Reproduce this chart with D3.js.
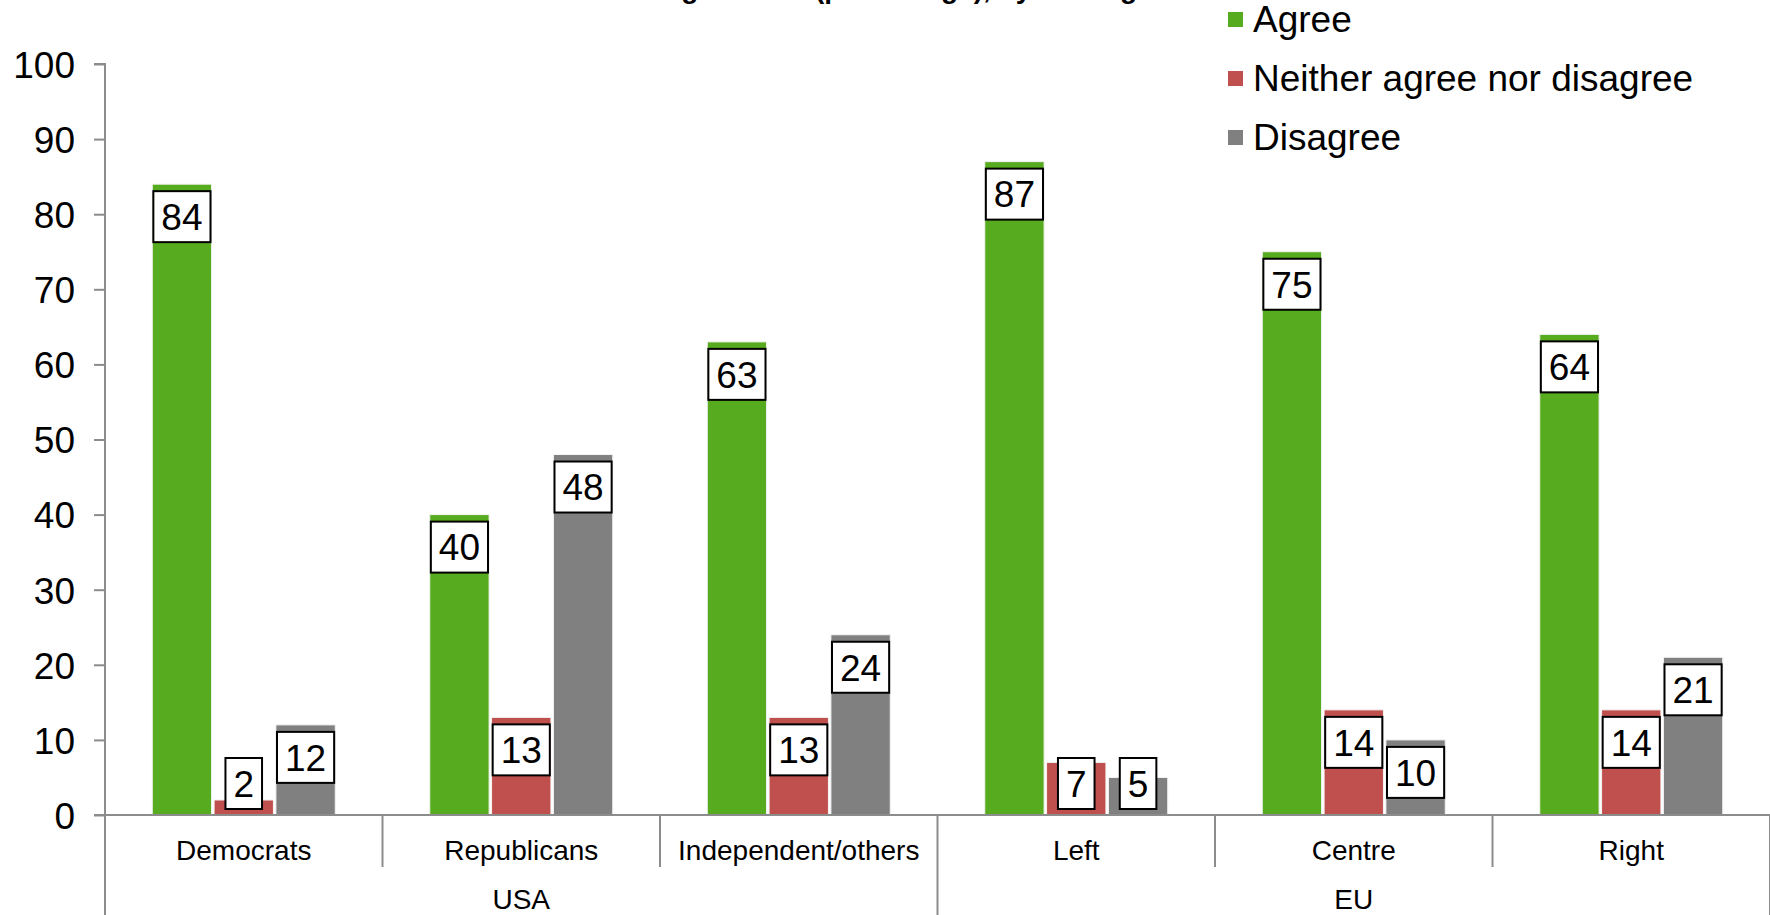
<!DOCTYPE html>
<html>
<head>
<meta charset="utf-8">
<script src="https://cdn.jsdelivr.net/npm/d3@7"></script>
<style>
  html, body { margin: 0; padding: 0; background: #fff; overflow: hidden; }
  svg { display: block; font-family: "Liberation Sans", Arial, sans-serif; }
</style>
</head>
<body>
<svg id="chart" width="1770" height="915"></svg>
<script>
// Survey answers by political leaning
const categories = ["Democrats", "Republicans", "Independent/others", "Left", "Centre", "Right"];
const groups = [
  { name: "USA", members: ["Democrats", "Republicans", "Independent/others"] },
  { name: "EU", members: ["Left", "Centre", "Right"] }
];
const seriesNames = ["Agree", "Neither agree nor disagree", "Disagree"];
const agree = [84, 40, 63, 87, 75, 64];
const neither = [2, 13, 13, 7, 14, 14];
const disagree = [12, 48, 24, 5, 10, 21];
const yTicks = [0, 10, 20, 30, 40, 50, 60, 70, 80, 90, 100];
const titleText = "Level of agreement (percentage), by leaning";

const colors = ["#57ab1e", "#c0504d", "#808080"];
const seriesValues = [agree, neither, disagree];

const svg = d3.select("#chart");
const plot = { left: 105, right: 1770, top: 64, bottom: 815 };

const y = d3.scaleLinear().domain([0, 100]).range([plot.bottom, plot.top]);
const x0 = d3.scaleBand().domain(categories).range([plot.left, plot.right]).padding(0);
const clusterW = 183;
const x1 = d3.scaleBand().domain(seriesNames)
  .range([(x0.bandwidth() - clusterW) / 2, (x0.bandwidth() + clusterW) / 2])
  .paddingInner(0.04);

const axisColor = "#8c8c8c";

// Title (sits at the very top edge)
svg.append("text")
  .attr("x", 552).attr("y", -2)
  .attr("font-size", 28).attr("font-weight", "bold")
  .attr("fill", "#000")
  .text(titleText);

// Y axis
const yAxis = d3.axisLeft(y).tickValues(yTicks).tickSize(11).tickPadding(19).tickFormat(d3.format("d"));
const gy = svg.append("g").attr("transform", `translate(${plot.left},0)`).call(yAxis);
gy.select(".domain").attr("stroke", axisColor).attr("stroke-width", 2)
  .attr("d", `M-11,${plot.top}H0V${plot.bottom}`);
gy.selectAll(".tick line").attr("stroke", axisColor).attr("stroke-width", 2);
gy.selectAll(".tick text").attr("font-size", 37).attr("fill", "#000")
  .attr("font-family", '"Liberation Sans", Arial, sans-serif').attr("dy", "0.36em");

// Bars
const rows = categories.map((c, i) => ({
  cat: c,
  vals: seriesNames.map((s, j) => ({ series: s, value: seriesValues[j][i], color: colors[j] }))
}));

const catG = svg.append("g").selectAll("g").data(rows).join("g")
  .attr("transform", d => `translate(${x0(d.cat)},0)`);

catG.selectAll("rect.bar").data(d => d.vals).join("rect")
  .attr("class", "bar")
  .attr("x", d => x1(d.series))
  .attr("y", d => y(d.value))
  .attr("width", x1.bandwidth())
  .attr("height", d => y(0) - y(d.value))
  .attr("fill", d => d.color)
  .attr("stroke", "#f4f4f4").attr("stroke-width", 1);

// X axis baseline
svg.append("line")
  .attr("x1", plot.left - 11).attr("x2", plot.right)
  .attr("y1", plot.bottom).attr("y2", plot.bottom)
  .attr("stroke", axisColor).attr("stroke-width", 2);

// Value labels in boxed callouts
const labelFont = 37;
const boxH = 51;
catG.each(function (d) {
  const g = d3.select(this);
  d.vals.forEach(v => {
    const txt = String(v.value);
    const tw = txt.length * 0.556 * labelFont;
    const bw = Math.min(tw + 16, x1.bandwidth());
    const cx = x1(v.series) + x1.bandwidth() / 2;
    let top = y(v.value) + 7;
    if (top + boxH > plot.bottom - 6) top = plot.bottom - 6 - boxH;
    g.append("rect")
      .attr("x", cx - bw / 2).attr("y", top)
      .attr("width", bw).attr("height", boxH)
      .attr("fill", "#fff").attr("stroke", "#000").attr("stroke-width", 2);
    g.append("text")
      .attr("x", cx).attr("y", top + boxH / 2)
      .attr("dy", "0.36em").attr("text-anchor", "middle")
      .attr("font-size", labelFont).attr("fill", "#000")
      .text(txt);
  });
});

// Category labels and separators
svg.append("g").selectAll("text").data(categories).join("text")
  .attr("x", d => x0(d) + x0.bandwidth() / 2)
  .attr("y", 860)
  .attr("text-anchor", "middle").attr("font-size", 28).attr("fill", "#000")
  .text(d => d);

const groupEdges = new Set([plot.left, plot.right]);
groups.forEach(g => {
  groupEdges.add(x0(g.members[0]));
  groupEdges.add(x0(g.members[g.members.length - 1]) + x0.bandwidth());
});
const catEdges = categories.map(c => x0(c)).concat([plot.right]);
svg.append("g").selectAll("line").data(catEdges).join("line")
  .attr("x1", d => d).attr("x2", d => d)
  .attr("y1", plot.bottom)
  .attr("y2", d => [...groupEdges].some(e => Math.abs(e - d) < 0.5) ? 915 : 867)
  .attr("stroke", axisColor).attr("stroke-width", 2);

// Group labels
svg.append("g").selectAll("text").data(groups).join("text")
  .attr("x", g => (x0(g.members[0]) + x0(g.members[g.members.length - 1]) + x0.bandwidth()) / 2)
  .attr("y", 909)
  .attr("text-anchor", "middle").attr("font-size", 28).attr("fill", "#000")
  .text(g => g.name);

// Legend
const legend = svg.append("g").selectAll("g").data(seriesNames).join("g")
  .attr("transform", (d, i) => `translate(1228,${32 + i * 59})`);
legend.append("rect")
  .attr("x", 0).attr("y", -20).attr("width", 15).attr("height", 15)
  .attr("fill", (d, i) => colors[i]);
legend.append("text")
  .attr("x", 25).attr("y", 0)
  .attr("font-size", 37).attr("fill", "#000")
  .text(d => d);
</script>
</body>
</html>
